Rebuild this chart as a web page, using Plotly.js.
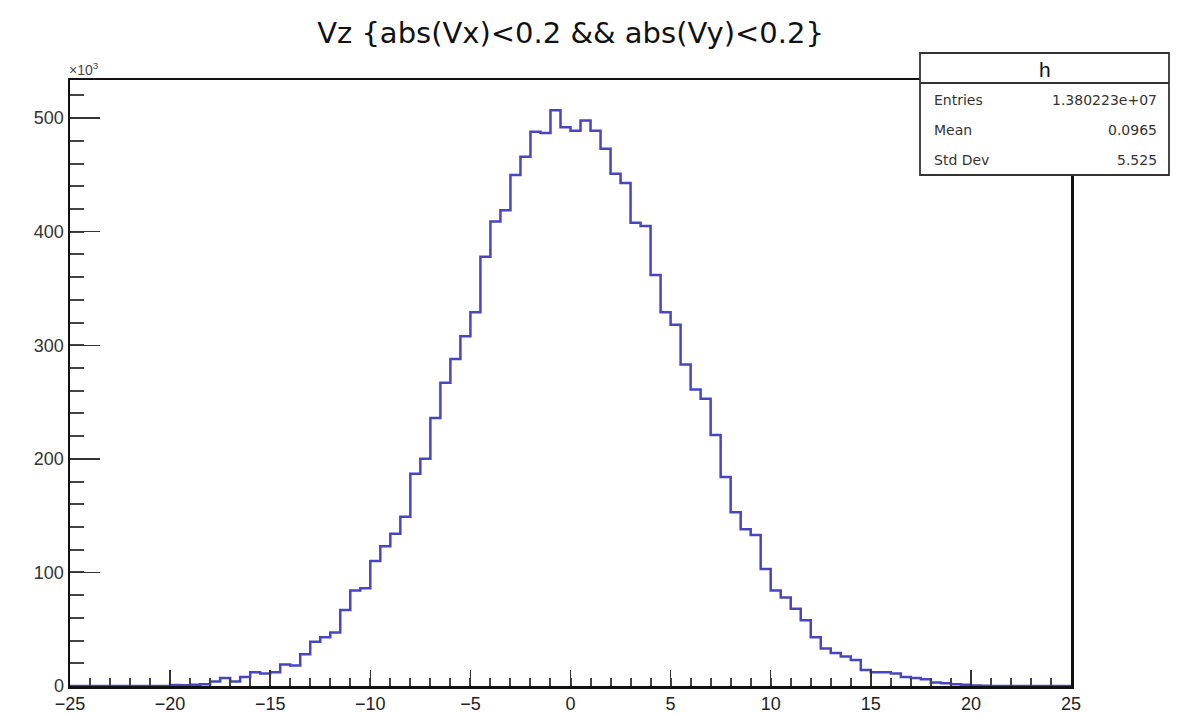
<!DOCTYPE html>
<html>
<head>
<meta charset="utf-8">
<script src="https://cdn.plot.ly/plotly-3.0.1.min.js"></script>
<style>html,body{margin:0;padding:0;background:#fff;}#chart{width:1181px;height:713px;}</style>
</head>
<body>
<div id="chart"></div>
<script>
// Histogram "h": Vz, 100 bins from -25 to 25, counts in units of 10^3
var xMin = -25;
var xMax = 25;
var nBins = 100;
var countsK = [
  0, 0, 0, 0, 0, 0, 0, 0, 0, 0,
  0.8, 0.6, 1.0, 1.5, 4, 7, 4, 8, 12, 11,
  12, 19, 18, 28, 39, 43, 47, 67, 84, 86,
  110, 123, 134, 149, 187, 200, 236, 267, 288, 308,
  329, 378, 409, 419, 450, 466, 488, 487, 507, 492,
  489, 498, 489, 473, 451, 443, 408, 405, 362, 329,
  318, 283, 261, 253, 221, 184, 153, 138, 133, 103,
  84, 78, 68, 58, 43, 33, 29, 26, 23, 14,
  12, 12, 11, 8, 7, 6, 3, 2.5, 1.5, 1,
  0.5, 0.3, 0, 0, 0, 0, 0, 0, 0, 0
];
var titleText = "Vz {abs(Vx)<0.2 && abs(Vy)<0.2}";
var statsName = "h";
var statsLabels = ["Entries", "Mean", "Std Dev"];
var statsValues = ["1.380223e+07", "0.0965", "5.525"];
var xTickVals = [-25, -20, -15, -10, -5, 0, 5, 10, 15, 20, 25];
var yTickVals = [0, 100, 200, 300, 400, 500];

// build step outline from bin edges
var binW = (xMax - xMin) / nBins;
var xs = [], ys = [];
for (var i = 0; i < nBins; i++) { xs.push(xMin + i * binW); ys.push(countsK[i]); }
xs.push(xMax); ys.push(countsK[nBins - 1]);
var maxC = Math.max.apply(null, countsK);

var font = "Liberation Sans, Arial, Helvetica, sans-serif";
var wide = "DejaVu Sans, Liberation Sans, sans-serif";
var W = 1181, H = 713;
var L = 70, R = 1071, T = 80, B = 686;
function px(x) { return (x - L) / (R - L); }
function py(y) { return (B - y) / (B - T); }

var trace = {
  x: xs, y: ys, type: 'scatter', mode: 'lines',
  line: {shape: 'hv', color: '#4646c4', width: 2.5},
  hoverinfo: 'x+y'
};

var shapes = [
  {type: 'rect', xref: 'paper', yref: 'paper', x0: px(920), x1: px(1169), y0: py(175), y1: py(53),
   line: {color: '#333', width: 1.8}, fillcolor: '#fff', layer: 'above'},
  {type: 'line', xref: 'paper', yref: 'paper', x0: px(920), x1: px(1169), y0: py(83), y1: py(83),
   line: {color: '#333', width: 1.8}, layer: 'above'}
];
var annotations = [
  {xref: 'paper', yref: 'paper', x: px((920 + 1169) / 2), y: py(69), text: statsName, showarrow: false,
   font: {family: font, size: 21, color: '#111'}, xanchor: 'center', yanchor: 'middle'},
  {xref: 'paper', yref: 'paper', x: px(67), y: py(69), text: '\u00d710<sup>3</sup>', showarrow: false,
   font: {family: font, size: 14, color: '#444'}, xanchor: 'left', yanchor: 'middle'}
];
var rowY = [100, 130, 160];
for (var k = 0; k < statsLabels.length; k++) {
  annotations.push({xref: 'paper', yref: 'paper', x: px(932), y: py(rowY[k]), text: statsLabels[k], showarrow: false,
    font: {family: wide, size: 14, color: '#333'}, xanchor: 'left', yanchor: 'middle'});
  annotations.push({xref: 'paper', yref: 'paper', x: px(1159), y: py(rowY[k]), text: statsValues[k], showarrow: false,
    font: {family: wide, size: 14, color: '#333'}, xanchor: 'right', yanchor: 'middle'});
}

var layout = {
  width: W, height: H,
  margin: {l: L, r: W - R, t: T, b: H - B, pad: 0},
  paper_bgcolor: '#fff', plot_bgcolor: '#fff',
  showlegend: false,
  title: {text: titleText, x: 0.5, xref: 'paper', y: 1 - 33 / H, yref: 'container', yanchor: 'middle', xanchor: 'center',
          font: {family: wide, size: 29, color: '#111'}},
  xaxis: {
    range: [xMin, xMax], tickvals: xTickVals, ticks: 'inside', ticklen: 16, tickwidth: 1.5, tickcolor: '#333',
    minor: {dtick: 1, tick0: 0, ticks: 'inside', ticklen: 8, tickwidth: 2, tickcolor: '#444'},
    showgrid: false, zeroline: false, showline: true, mirror: true, linecolor: '#111', linewidth: 2.5,
    tickfont: {family: font, size: 18, color: '#222'}, fixedrange: true
  },
  yaxis: {
    range: [0, maxC * 1.0525], tickvals: yTickVals, ticks: 'inside', ticklen: 30, tickwidth: 1.5, tickcolor: '#333',
    minor: {dtick: 20, tick0: 0, ticks: 'inside', ticklen: 14, tickwidth: 2, tickcolor: '#444'},
    showgrid: false, zeroline: false, showline: true, mirror: true, linecolor: '#111', linewidth: 2.5,
    tickfont: {family: font, size: 18, color: '#333'}, fixedrange: true
  },
  shapes: shapes,
  annotations: annotations
};

Plotly.newPlot('chart', [trace], layout, {displayModeBar: false, staticPlot: true});
</script>
</body>
</html>
